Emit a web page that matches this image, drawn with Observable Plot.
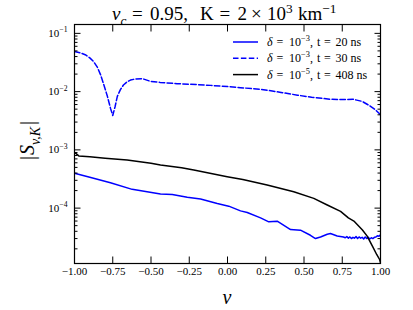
<!DOCTYPE html>
<html><head><meta charset="utf-8">
<script src="https://cdn.jsdelivr.net/npm/d3@7"></script>
<script src="https://cdn.jsdelivr.net/npm/@observablehq/plot@0.6"></script>
<style>
body{margin:0;background:#fff;}
#c{position:relative;width:413px;height:310px;}
</style></head><body><div id="c"></div>
<script>
// delta = 1e-3, t = 20 ns (solid blue)
const v20 = [-1, -0.9, -0.765, -0.623, -0.438, -0.361, -0.263, -0.176, -0.067, 0.008, 0.085, 0.129, 0.216, 0.27, 0.325, 0.412, 0.477, 0.542, 0.575, 0.608, 0.652, 0.673, 0.717, 0.758,
  0.77, 0.78, 0.79, 0.80, 0.81, 0.82, 0.83, 0.84, 0.85, 0.86, 0.87, 0.88, 0.89, 0.90, 0.91, 0.92, 0.93, 0.94, 0.95, 0.96, 0.97, 0.98, 0.99, 1.0];
const s20 = [3.96e-4, 3.4e-4, 2.73e-4, 2.10e-4, 1.74e-4, 1.72e-4, 1.53e-4, 1.43e-4, 1.20e-4, 1.08e-4, 8.97e-5, 8.43e-5, 6.81e-5, 5.81e-5, 5.97e-5, 4.29e-5, 4.18e-5, 3.42e-5, 3.0e-5, 3.2e-5, 3.56e-5, 3.66e-5, 3.33e-5, 3.2e-5,
  3.1e-5, 3.25e-5, 3.05e-5, 3.2e-5, 3.0e-5, 3.15e-5, 3.05e-5, 3.25e-5, 3.0e-5, 3.2e-5, 3.05e-5, 3.15e-5, 2.95e-5, 3.2e-5, 3.0e-5, 3.15e-5, 2.95e-5, 3.1e-5, 3.0e-5, 3.15e-5, 3.2e-5, 3.35e-5, 3.3e-5, 3.5e-5];
// delta = 1e-3, t = 30 ns (dashed blue)
const v30 = [-1, -0.96, -0.93, -0.9, -0.876, -0.85, -0.83, -0.81, -0.785, -0.765, -0.75, -0.735, -0.72, -0.7, -0.68, -0.655, -0.634, -0.6, -0.556, -0.503, -0.44, -0.33, -0.2, -0.11, 0, 0.085, 0.235, 0.35, 0.457, 0.55, 0.67, 0.75, 0.82, 0.88, 0.935, 0.97, 1.0];
const s30 = [0.049, 0.046, 0.043, 0.038, 0.033, 0.026, 0.0196, 0.0135, 0.0083, 0.0052, 0.0039, 0.0055, 0.0083, 0.0108, 0.013, 0.0148, 0.0158, 0.0165, 0.0167, 0.0150, 0.0144, 0.0137, 0.0132, 0.0128, 0.0122, 0.0117, 0.0108, 0.0097, 0.0087, 0.008, 0.0074, 0.0073, 0.0074, 0.0068, 0.0056, 0.0048, 0.0040];
// delta = 1e-5, t = 408 ns (solid black)
const v408 = [-1, -0.993, -0.972, -0.9, -0.8, -0.656, -0.5, -0.438, -0.3, -0.22, -0.002, 0.1, 0.259, 0.433, 0.564, 0.652, 0.739, 0.79, 0.826, 0.882, 0.913, 0.948, 0.975, 0.995, 1.0];
const s408 = [8.9e-4, 8.77e-4, 7.88e-4, 7.6e-4, 7.2e-4, 6.73e-4, 5.9e-4, 5.51e-4, 4.95e-4, 4.52e-4, 3.47e-4, 3.1e-4, 2.49e-4, 1.91e-4, 1.47e-4, 1.13e-4, 8.8e-5, 6.8e-5, 6.0e-5, 4.2e-5, 3.3e-5, 2.2e-5, 1.6e-5, 1.3e-5, 1.15e-5];

const xTicks = [-1, -0.75, -0.5, -0.25, 0, 0.25, 0.5, 0.75, 1];
const yMajor = [1e-4, 1e-3, 1e-2, 1e-1];
const yMinor = [2e-5, 3e-5, 4e-5, 5e-5, 6e-5, 7e-5, 8e-5, 9e-5,
  2e-4, 3e-4, 4e-4, 5e-4, 6e-4, 7e-4, 8e-4, 9e-4,
  2e-3, 3e-3, 4e-3, 5e-3, 6e-3, 7e-3, 8e-3, 9e-3,
  2e-2, 3e-2, 4e-2, 5e-2, 6e-2, 7e-2, 8e-2, 9e-2];
const legendExp = ["−3", "−3", "−5"];
const legendTimes = ["20", "30", "408"];

const mk = (vs, ss) => vs.map((v, i) => ({v, s: ss[i]}));
const d20 = mk(v20, s20), d30 = mk(v30, s30), d408 = mk(v408, s408);

const FONT = "Liberation Serif, DejaVu Serif, serif";
const BLUE = "#0000ff";
const MAJ = 6.5, MIN = 3.5;

const plot = Plot.plot({
  width: 413, height: 310,
  marginLeft: 74, marginRight: 33, marginTop: 24, marginBottom: 47,
  style: {fontFamily: FONT, fontSize: "11px", background: "white", color: "black", overflow: "visible"},
  x: {domain: [-1, 1]},
  y: {type: "log", domain: [1.12e-5, 0.142]},
  marks: [
    Plot.line(d20, {x: "v", y: "s", stroke: BLUE, strokeWidth: 1.5, clip: true}),
    Plot.line(d30, {x: "v", y: "s", stroke: BLUE, strokeWidth: 1.5, strokeDasharray: "5.5,2.4", clip: true}),
    Plot.line(d408, {x: "v", y: "s", stroke: "black", strokeWidth: 1.5, clip: true}),
    Plot.axisX(xTicks, {anchor: "bottom", tickSize: -MAJ, fill: "none", label: null}),
    Plot.axisX(xTicks, {anchor: "top", tickSize: -MAJ, fill: "none", label: null}),
    Plot.axisX(xTicks, {anchor: "bottom", tickSize: 0, tickPadding: 4, tickFormat: d3.format(".2f"), label: null}),
    Plot.axisY(yMajor, {anchor: "left", tickSize: -MAJ, fill: "none", label: null}),
    Plot.axisY(yMinor, {anchor: "left", tickSize: -MIN, fill: "none", label: null}),
    Plot.axisY(yMajor, {anchor: "right", tickSize: -MAJ, fill: "none", label: null}),
    Plot.axisY(yMinor, {anchor: "right", tickSize: -MIN, fill: "none", label: null}),
    Plot.axisY(yMajor, {anchor: "left", tickSize: 0, tickPadding: 7, tickFormat: d => "10^" + Math.round(Math.log10(d)), label: null}),
    Plot.frame({stroke: "black", strokeWidth: 1.2})
  ]
});
document.getElementById("c").appendChild(plot);
const svg = d3.select(plot);

// rich text helper: parts [{t, i, sup, sub, dx, x}]
function rich(textSel, parts, size, supK = 0.42) {
  let off = 0;
  parts.forEach(p => {
    const ts = textSel.append("tspan").text(p.t);
    if (p.i) ts.attr("font-style", "italic");
    if (p.dx) ts.attr("dx", p.dx);
    if (p.x !== undefined) ts.attr("x", p.x);
    let target = 0;
    if (p.sup) target = -supK * size;
    if (p.sub) target = 0.28 * size;
    if (p.sup || p.sub) ts.attr("font-size", size * 0.7);
    if (target !== off) { ts.attr("dy", target - off); off = target; }
  });
}

// y tick labels with superscripts
svg.selectAll("text").each(function() {
  const el = d3.select(this);
  const s = el.text();
  if (s.startsWith("10^")) {
    el.text("");
    rich(el, [{t: "10"}, {t: s.slice(3).replace("-", "−"), sup: true}], 11);
  }
});

// title
const TS = 19;
const title = svg.append("text").attr("y", 19.5).attr("text-anchor", "start")
  .attr("font-family", FONT).attr("font-size", TS).attr("fill", "black");
rich(title, [{t: "v", i: true, x: 112}, {t: "c", i: true, sub: true}, {t: "=", x: 132}, {t: "0.95,", x: 150},
  {t: "K", x: 200}, {t: "=", x: 219.5}, {t: "2", x: 237.5}, {t: "×", x: 251}, {t: "10", x: 267}, {t: "3", sup: true},
  {t: "km", x: 298}, {t: "−1", sup: true}], TS, 0.34);

// x label
svg.append("text").attr("x", 227).attr("y", 304).attr("text-anchor", "middle")
  .attr("font-family", FONT).attr("font-size", 20).attr("font-style", "italic").attr("fill", "black").text("v");

// y label
const yl = svg.append("text").attr("transform", "translate(34,160) rotate(-90)").attr("text-anchor", "start")
  .attr("font-family", FONT).attr("font-size", 20).attr("fill", "black");
rich(yl, [{t: "|"}, {t: "S", i: true, dx: 1}, {t: "v,K", i: true, sub: true}, {t: "|", dx: 2}], 20);

// legend
const LS = 12;
const lg = svg.append("g").attr("font-family", FONT).attr("font-size", LS).attr("text-anchor", "start");
const styles = [{stroke: BLUE, dash: null}, {stroke: BLUE, dash: "5.5,2.4"}, {stroke: "black", dash: null}];
legendExp.forEach((ex, i) => {
  const y = 42 + i * 16.3;
  lg.append("line").attr("x1", 233).attr("x2", 258).attr("y1", y).attr("y2", y)
    .attr("stroke", styles[i].stroke).attr("stroke-width", 1.5).attr("stroke-dasharray", styles[i].dash);
  const t = lg.append("text").attr("y", y + 4).attr("fill", "black").attr("text-anchor", "start");
  rich(t, [{t: "δ", i: true, x: 267}, {t: "=", x: 276.5}, {t: "10", x: 289}, {t: ex, sup: true}, {t: ","},
    {t: "t", x: 317}, {t: "=", x: 324}, {t: legendTimes[i] + " ns", x: 335.5}], LS);
});
</script></body></html>
